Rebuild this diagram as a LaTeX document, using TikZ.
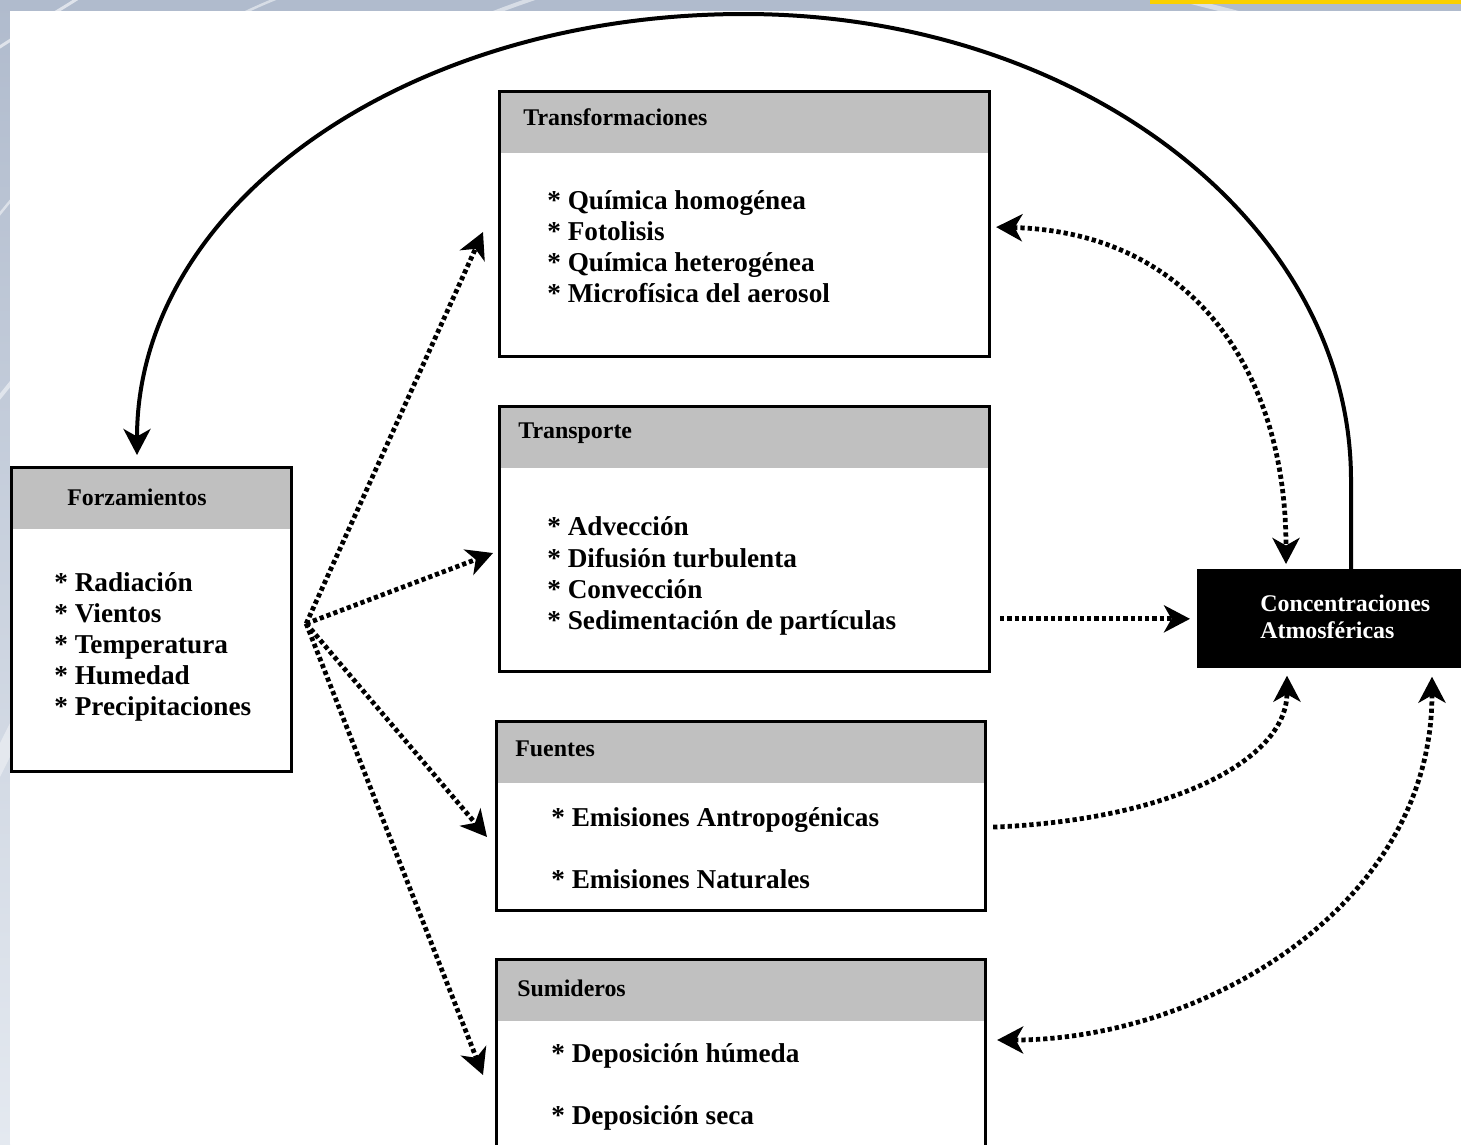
\documentclass[tikz,border=0pt]{standalone}
\usepackage{fontspec}
\setmainfont{Liberation Serif}
\usetikzlibrary{arrows.meta,calc}
\definecolor{hdrgray}{RGB}{192,192,192}
\definecolor{bgblue}{RGB}{176,187,205}
\definecolor{bglight}{RGB}{228,233,240}
\definecolor{gold}{RGB}{250,208,0}
\begin{document}
\begin{tikzpicture}[x=0.02cm,y=-0.02cm,
  >={Stealth[length=0.52cm,width=0.54cm,inset=0.15cm]},
  box/.style={draw=black, line width=0.065cm, anchor=north west, inner sep=0pt,
    path picture={\fill[hdrgray] (path picture bounding box.north west) rectangle ([yshift=-1.22cm]path picture bounding box.north east);}},
  ttl/.style={anchor=west, inner sep=0pt, font=\fontsize{13.6pt}{16pt}\selectfont\bfseries},
  itm/.style={anchor=west, inner sep=0pt, align=left, font=\fontsize{15.5pt}{17.7pt}\selectfont\bfseries},
  itmw/.style={anchor=west, inner sep=0pt, align=left, font=\fontsize{15.5pt}{35.3pt}\selectfont\bfseries},
  dotl/.style={line width=0.095cm, dash pattern=on 0.085cm off 0.06cm},
  solidl/.style={line width=0.08cm}
]
\useasboundingbox (0,0) rectangle (1461,1144);
\clip (0,0) rectangle (1461,1144);
% background
\fill[bgblue] (0,0) rectangle (1461,1144);
\shade[top color=bgblue, bottom color=bglight] (0,0) rectangle (10,1144);
\begin{scope}
  \clip (0,0) rectangle (1461,11) (0,0) rectangle (10,1144);
  \draw[white, opacity=0.6, line width=0.06cm] (-20,60) .. controls (40,20) and (70,5) .. (90,-10);
  \draw[white, opacity=0.5, line width=0.05cm] (-20,240) .. controls (30,170) and (150,40) .. (300,-10);
  \draw[white, opacity=0.5, line width=0.08cm] (-20,420) .. controls (20,380) and (200,100) .. (560,-10);
  \draw[white, opacity=0.5, line width=0.1cm] (1150,-10) .. controls (1200,5) and (1230,10) .. (1260,20);
  \draw[white, opacity=0.4, line width=0.3cm] (-20,800) .. controls (0,760) and (10,740) .. (30,700);
\end{scope}
\fill[white] (10,11) rectangle (1461,1144);
\fill[gold] (1150,0) rectangle (1461,3.5);

% boxes
\node[box, minimum width=9.8cm, minimum height=5.3cm] (transf) at (498,90) {};
\node[box, minimum width=9.8cm, minimum height=5.3cm] (transp) at (498,405) {};
\node[box, minimum width=9.78cm, minimum height=3.78cm] (fuen) at (495,720) {};
\node[box, minimum width=9.78cm, minimum height=4.24cm] (sumi) at (495,958) {};
\node[box, minimum width=5.6cm, minimum height=6.08cm] (forz) at (10,466) {};
\node[fill=black, draw=none, anchor=north west, inner sep=0pt, minimum width=5.6cm, minimum height=1.98cm] (conc) at (1197,569) {};

% texts
\node[ttl] (ttransf) at (523,117) {Transformaciones};
\node[itm] (itransf) at (547,247) {* Química homogénea\\* Fotolisis\\* Química heterogénea\\* Microfísica del aerosol};
\node[ttl] (ttransp) at (518,433) {Transporte};
\node[itm] (itransp) at (547,576) {* Advección\\* Difusión turbulenta\\* Convección\\* Sedimentación de partículas};
\node[ttl] (tfuen) at (515,749) {Fuentes};
\node[itmw] (ifuen) at (551,848) {* Emisiones Antropogénicas\\* Emisiones Naturales};
\node[ttl] (tsumi) at (517,988) {Sumideros};
\node[itmw] (isumi) at (551,1087) {* Deposición húmeda\\* Deposición seca};
\node[ttl, anchor=center] (tforz) at (137,497) {Forzamientos};
\node[itm] (iforz) at (54,647) {* Radiación\\* Vientos\\* Temperatura\\* Humedad\\* Precipitaciones};
\node[anchor=west, inner sep=0pt, align=left, text=white, font=\fontsize{13.6pt}{15.4pt}\selectfont\bfseries] (tconc) at (1260,617) {Concentraciones\\Atmosféricas};

% connectors
\coordinate (fz) at ($(forz.east)+(13,4)$);
\draw[dotl,->] (fz) -- ($(transf.north west)+(-15,142)$);
\draw[dotl,->] (fz) -- ($(transp.north west)+(-5,148)$);
\draw[dotl,->] (fz) -- ($(fuen.north west)+(-8,117)$);
\draw[dotl,->] (fz) -- ($(sumi.north west)+(-12,117)$);

\draw[dotl,->] ($(transp.east|-conc.west)+(9,0)$) -- ($(conc.west)+(-7,0)$);

\draw[dotl,<->] ($(transf.east)+(5,3)$) .. controls (1190,232) and ($(conc.north west)+(89,-200)$) .. ($(conc.north west)+(89,-5)$);
\draw[dotl,->] ($(fuen.east)+(6,11)$) .. controls (1170,820) and ($(conc.south west)+(90,92)$) .. ($(conc.south west)+(90,7)$);
\draw[dotl,<->] ($(sumi.north east)+(10,82)$) .. controls (1200,1040) and ($(conc.south west)+(235,240)$) .. ($(conc.south west)+(235,8)$);

\draw[solidl,->] ($(conc.north west)+(154,0)$) -- (1351,480) .. controls (1351,222) and (1079,14) .. (744,14) .. controls (405,14) and (137,205) .. ($(forz.north west)+(127,-11)$);
\end{tikzpicture}
\end{document}
